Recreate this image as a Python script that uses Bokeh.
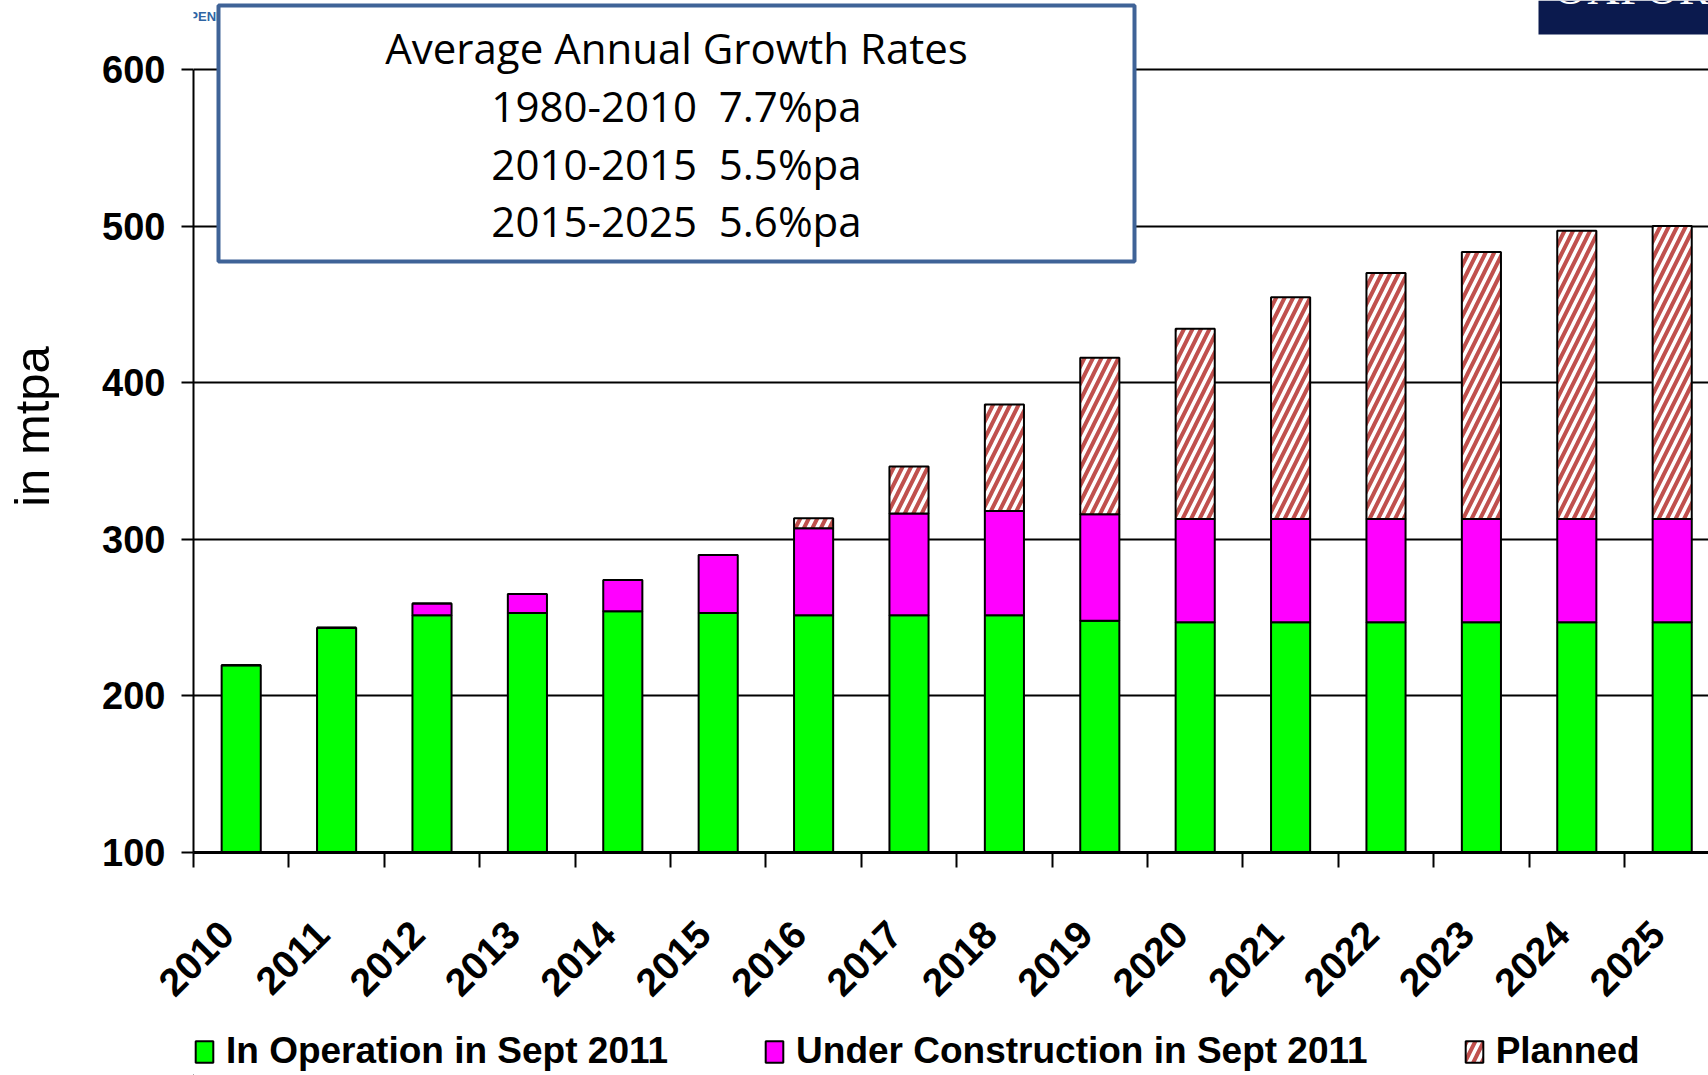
import math
from bokeh.plotting import figure
from bokeh.layouts import column
from bokeh.models import (ColumnDataSource, FixedTicker, Range1d, Legend, LegendItem,
                          BoxAnnotation, Label)
from bokeh.embed import file_html
from bokeh.resources import INLINE

# ---- data (mtpa) ----
years = [str(y) for y in range(2010, 2026)]
in_operation = [219.5, 243.5, 251.5, 253, 254, 253, 251.5, 251.5, 251.5,
                248, 247, 247, 247, 247, 247, 247]
under_construction = [0, 0, 7.5, 12, 20, 37, 55.5, 65, 66.5,
                      68, 66, 66, 66, 66, 66, 66]
planned = [0, 0, 0, 0, 0, 0, 6.5, 30, 68,
           100, 121.5, 141.5, 157, 170.5, 184, 187]
y_ticks = [100, 200, 300, 400, 500, 600]
series_labels = ["In Operation in Sept 2011", "Under Construction in Sept 2011", "Planned"]
series_colors = ["#00FF00", "#FF00FF", "white"]
series_hatch = [" ", " ", "/"]
growth_lines = ["Average Annual Growth Rates",
                "1980-2010 \u00a07.7%pa",
                "2010-2015 \u00a05.5%pa",
                "2015-2025 \u00a05.6%pa"]

# ---- layout ----
W = 1708
MAIN_H = 1020       # chart canvas; the legend strip sits below it
LEG_H = 55
LEFT = 193          # frame left edge (px)
FRAME_H = 852       # frame bottom (px from top)
CAT_PX = 95.4       # width of one year slot
PX_PER_UNIT = 783 / 500.0

def dx(px):
    return (px - LEFT) / CAT_PX

def dy(py):
    return 100 + (FRAME_H - py) / PX_PER_UNIT

BOLD = "Liberation Sans"
HATCH = dict(hatch_color="#C0504D", hatch_scale=17, hatch_weight=4)

centers = [i + 0.5 for i in range(len(years))]
label_pos = [c - 0.15 for c in centers]

p = figure(width=W, height=MAIN_H,
           x_range=Range1d(0, (W - LEFT) / CAT_PX),
           y_range=Range1d(100, 100 + FRAME_H / PX_PER_UNIT),
           output_backend="svg", toolbar_location=None,
           min_border_left=LEFT, min_border_right=0,
           min_border_top=0, min_border_bottom=MAIN_H - FRAME_H)
p.outline_line_color = None
p.background_fill_color = "white"
p.border_fill_color = "white"

# y axis
p.yaxis.ticker = FixedTicker(ticks=y_ticks)
p.yaxis.bounds = (100, 600)
p.yaxis.axis_line_width = 2
p.yaxis.axis_line_color = "black"
p.yaxis.major_tick_out = 12
p.yaxis.major_tick_in = 0
p.yaxis.major_tick_line_width = 2
p.yaxis.minor_tick_line_color = None
p.yaxis.major_label_standoff = 16
p.yaxis.major_label_text_font = BOLD
p.yaxis.major_label_text_font_style = "bold"
p.yaxis.major_label_text_font_size = "38px"
p.yaxis.major_label_text_color = "black"
p.yaxis.axis_label = "in mtpa"
p.yaxis.axis_label_text_font = "Liberation Sans"
p.yaxis.axis_label_text_font_style = "normal"
p.yaxis.axis_label_text_font_size = "49px"
p.yaxis.axis_label_text_color = "black"
p.yaxis.axis_label_standoff = 40

# x axis: labels under each slot, tick marks at slot boundaries
p.xaxis.ticker = FixedTicker(ticks=label_pos, minor_ticks=list(range(0, len(years))))
p.xaxis.major_label_overrides = {c: y for c, y in zip(label_pos, years)}
p.xaxis.major_tick_out = 0
p.xaxis.major_tick_in = 0
p.xaxis.minor_tick_out = 15
p.xaxis.minor_tick_in = 0
p.xaxis.minor_tick_line_width = 2
p.xaxis.minor_tick_line_color = "black"
p.xaxis.axis_line_width = 3
p.xaxis.axis_line_color = "black"
p.xaxis.major_label_orientation = math.pi / 4
p.xaxis.major_label_standoff = 60
p.xaxis.major_label_text_font = BOLD
p.xaxis.major_label_text_font_style = "bold"
p.xaxis.major_label_text_font_size = "39px"
p.xaxis.major_label_text_color = "black"

# grid
p.xgrid.visible = False
p.ygrid.grid_line_color = "black"
p.ygrid.grid_line_width = 2

# stacked bars
source = ColumnDataSource(dict(x=centers, op=in_operation,
                               uc=under_construction, pl=planned))
bars = p.vbar_stack(["op", "uc", "pl"], x="x", width=0.41, source=source,
                    fill_color=series_colors, hatch_pattern=series_hatch,
                    line_color="black", line_width=2, **HATCH)

# header strip
p.add_layout(Label(x=dx(55), y=dy(23), text="A RECOGNIZED INDEPENDENT CENTRE",
                   text_font="Liberation Sans", text_font_style="bold",
                   text_font_size="13px", text_color="#2F64A3"))
p.add_layout(BoxAnnotation(left=dx(1538), bottom=dy(34), fill_color="#0B1A4E",
                           fill_alpha=1, line_color=None))
p.add_layout(Label(x=dx(1553), y=dy(13), text="OXFORD", text_font="Liberation Serif",
                   text_font_size="46px", text_color="white"))

# growth-rate box
p.add_layout(BoxAnnotation(left=dx(218), right=dx(1134), top=dy(5), bottom=dy(261),
                           fill_color="white", fill_alpha=1,
                           line_color="#3F6397", line_width=4, line_alpha=1))
for yc, txt in zip([47, 105, 163, 220], growth_lines):
    p.add_layout(Label(x=dx(676), y=dy(yc), text=txt, text_align="center",
                       text_baseline="middle", text_font="Open Sans",
                       text_font_size="42px", text_color="black"))

# legend strip (its frame lines up with the chart frame above)
lf = figure(width=W, height=LEG_H, x_range=Range1d(0, 1), y_range=Range1d(0, 1),
            output_backend="svg", toolbar_location=None,
            min_border_left=0, min_border_right=0, min_border_top=0, min_border_bottom=0)
lf.axis.visible = False
lf.grid.visible = False
lf.outline_line_color = None
# key swatches: one bar each, parked outside the visible range
keys = [lf.vbar(x=[-5], top=[0], width=0.1, fill_color=c, hatch_pattern=h,
                line_color="black", line_width=2, **HATCH)
        for c, h in zip(series_colors, series_hatch)]
legend = Legend(items=[LegendItem(label=lab, renderers=[r])
                       for lab, r in zip(series_labels, keys)],
                orientation="horizontal", location=(0, 3),
                spacing=95, glyph_width=22, glyph_height=27, label_standoff=11,
                label_text_font=BOLD, label_text_font_style="bold",
                label_text_font_size="37px", label_text_color="black",
                padding=0, margin=0, border_line_color=None,
                background_fill_alpha=0)
lf.add_layout(legend)

open("out.html", "w").write(file_html(column(p, lf, spacing=0), INLINE))
